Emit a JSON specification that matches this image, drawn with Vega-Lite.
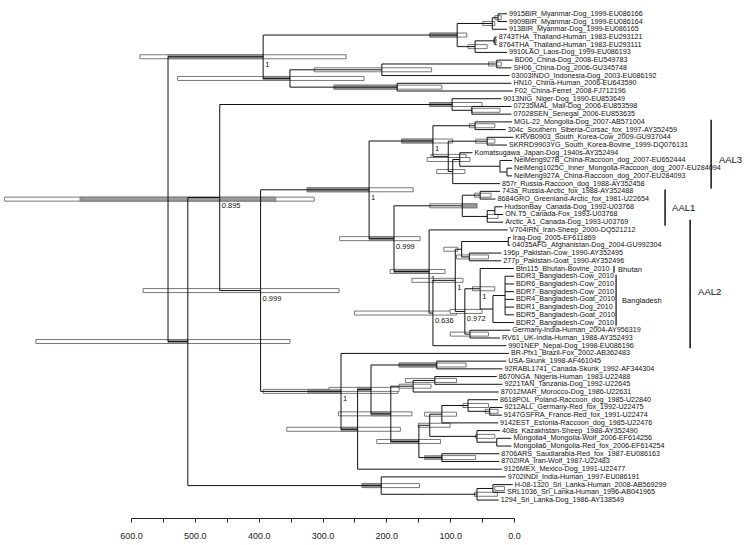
{
 "$schema": "https://vega.github.io/schema/vega-lite/v6.json",
 "width": 383, "height": 518,
 "autosize": "none",
 "padding": {"left": 131, "top": 0, "right": 236, "bottom": 27},
 "background": "white",
 "config": {"view": {"stroke": null}, "font": "Liberation Sans",
   "axis": {"grid": false, "domainColor": "#222", "tickColor": "#222", "tickSize": 4, "labelFontSize": 9,
            "labelColor": "#222", "labelPadding": 9, "labelFont": "Liberation Sans", "labelFlush": false,
            "labelOverlap": false, "domainWidth": 1, "tickWidth": 1}},
 "datasets": {
  "nodes": [
   {"id":"R","v":542,"y":25.01,"hi":798,"lo":313,"ghi":680,"glo":373},
   {"id":"T","parent":"R","v":393,"y":6.5625,"pp":"1","hi":586,"lo":263,"ghi":542,"glo":393},
   {"id":"T1","parent":"T","v":89,"y":3.75,"hi":132,"lo":74,"ghi":132,"glo":89},
   {"id":"A123","parent":"T1","v":34,"y":2.25,"hi":49,"lo":30},
   {"id":"A12","parent":"A123","v":25,"y":1.5,"hi":30,"lo":20},
   {"id":"A456","parent":"T1","v":61,"y":5.25,"hi":72,"lo":42},
   {"id":"A45","parent":"A456","v":30,"y":4.5,"hi":32,"lo":28},
   {"id":"T2","parent":"T","v":351,"y":9.375,"hi":527,"lo":235,"ghi":393,"glo":351},
   {"id":"T2a","parent":"T2","v":207,"y":8.25,"hi":313,"lo":129},
   {"id":"N78","parent":"T2a","v":27,"y":7.5,"hi":40,"lo":20},
   {"id":"N1011","parent":"T2","v":183,"y":10.5,"hi":282,"lo":113,"ghi":282,"glo":183},
   {"id":"B","parent":"R","v":511,"y":43.46,"hi":749,"lo":351,"ghi":542,"glo":511},
   {"id":"N895","parent":"B","v":461,"y":24.8,"pp":"0.895"},
   {"id":"Af2","parent":"N895","v":97,"y":12.75,"hi":132,"lo":50,"ghi":132,"glo":97},
   {"id":"Af2b","parent":"Af2","v":66,"y":13.5,"hi":66,"lo":22},
   {"id":"N999a","parent":"N895","v":397,"y":36.86,"pp":"0.999","hi":581,"lo":274},
   {"id":"C","parent":"N999a","v":227,"y":23.8,"pp":"1","hi":324,"lo":158,"ghi":324,"glo":227},
   {"id":"AAL3","parent":"C","v":127,"y":17.48,"pp":"1","hi":176,"lo":96,"ghi":176,"glo":127},
   {"id":"N1516","parent":"AAL3","v":61,"y":15.5,"hi":70,"lo":30},
   {"id":"N1723","parent":"AAL3","v":103,"y":19.47,"hi":130,"lo":75},
   {"id":"N1718","parent":"N1723","v":42,"y":17.5,"hi":60,"lo":30},
   {"id":"Q","parent":"N1723","v":96,"y":21.4375,"hi":121,"lo":77},
   {"id":"N1922","parent":"Q","v":85,"y":19.875,"hi":136,"lo":69},
   {"id":"N2022","parent":"N1922","v":22,"y":20.75},
   {"id":"N2122","parent":"N2022","v":11,"y":21.5},
   {"id":"D","parent":"C","v":188,"y":30.13,"pp":"0.999","hi":273,"lo":147,"ghi":227,"glo":188},
   {"id":"AAL1","parent":"D","v":81,"y":25.875,"hi":132,"lo":58,"ghi":81,"glo":58},
   {"id":"N2425","parent":"AAL1","v":53,"y":24.5,"hi":62,"lo":36},
   {"id":"N2628","parent":"AAL1","v":42,"y":27.25,"hi":42,"lo":25},
   {"id":"N2627","parent":"N2628","v":30,"y":26.5},
   {"id":"AAL2","parent":"D","v":133,"y":34.38,"pp":"1","hi":194,"lo":108,"ghi":188,"glo":133},
   {"id":"N636","parent":"AAL2","v":127,"y":39.77,"pp":"0.636","hi":250,"lo":90},
   {"id":"Na","parent":"N636","v":92,"y":35.53,"pp":"1","hi":160,"lo":80},
   {"id":"N3033","parent":"Na","v":82,"y":31.5,"hi":110,"lo":88},
   {"id":"N3031","parent":"N3033","v":9,"y":30.5},
   {"id":"N3233","parent":"N3033","v":70,"y":32.5,"hi":90,"lo":40},
   {"id":"N972","parent":"Na","v":77,"y":39.56,"pp":"0.972","hi":100,"lo":50},
   {"id":"NBB","parent":"N972","v":53,"y":36.625,"pp":"1","hi":65,"lo":30},
   {"id":"NBg","parent":"NBB","v":33,"y":39.25},
   {"id":"NBg2","parent":"NBg","v":14,"y":37.5},
   {"id":"N4243","parent":"N972","v":69,"y":42.5,"hi":100,"lo":40},
   {"id":"E","parent":"N999a","v":271,"y":49.92,"pp":"1","hi":393,"lo":182,"ghi":323,"glo":271},
   {"id":"F","parent":"E","v":245,"y":54.83,"hi":356,"lo":178,"ghi":271,"glo":245},
   {"id":"G","parent":"F","v":224,"y":49.66,"hi":290,"lo":180,"ghi":245,"glo":224},
   {"id":"N4647","parent":"G","v":121,"y":46.5,"hi":180,"lo":75,"ghi":180,"glo":121},
   {"id":"H","parent":"G","v":193,"y":52.83,"hi":275,"lo":160,"ghi":224,"glo":193},
   {"id":"Af1","parent":"H","v":158,"y":49.25,"hi":180,"lo":130},
   {"id":"N4849","parent":"Af1","v":124,"y":48.5,"hi":170,"lo":90},
   {"id":"Eur","parent":"H","v":149,"y":56.41,"hi":215,"lo":115,"ghi":193,"glo":149},
   {"id":"N5157","parent":"Eur","v":132,"y":54.31,"hi":150,"lo":100},
   {"id":"N5154","parent":"N5157","v":113,"y":52.875,"hi":140,"lo":90},
   {"id":"N5153","parent":"N5154","v":72,"y":51.75,"hi":80,"lo":40},
   {"id":"N5253","parent":"N5153","v":38,"y":52.5,"hi":45,"lo":25},
   {"id":"N5557","parent":"N5157","v":58,"y":55.75,"hi":60,"lo":30},
   {"id":"N5657","parent":"N5557","v":27,"y":56.5},
   {"id":"N5859","parent":"Eur","v":113,"y":58.5,"hi":113,"lo":60,"ghi":140,"glo":113},
   {"id":"I","parent":"B","v":208,"y":62.125,"hi":238,"lo":148,"ghi":238,"glo":208},
   {"id":"J","parent":"I","v":58,"y":63.25,"hi":62,"lo":26},
   {"id":"K","parent":"J","v":33,"y":62.5,"hi":30,"lo":15},
   {"id":"t1","parent":"A12","v":11,"y":1,"label":"9915BIR_Myanmar-Dog_1999-EU086166"},
   {"id":"t2","parent":"A12","v":11,"y":2,"label":"9909BIR_Myanmar-Dog_1999-EU086164"},
   {"id":"t3","parent":"A123","v":11,"y":3,"label":"913BIR_Myanmar-Dog_1999-EU086165"},
   {"id":"t4","parent":"A45","v":27,"y":4,"label":"8743THA_Thailand-Human_1983-EU293121"},
   {"id":"t5","parent":"A45","v":27,"y":5,"label":"8764THA_Thailand-Human_1983-EU293111"},
   {"id":"t6","parent":"A456","v":11,"y":6,"label":"9910LAO_Laos-Dog_1999-EU086193"},
   {"id":"t7","parent":"N78","v":2,"y":7,"label":"BD06_China-Dog_2008-EU549783"},
   {"id":"t8","parent":"N78","v":4,"y":8,"label":"SH06_China-Dog_2006-GU345748"},
   {"id":"t9","parent":"T2a","v":7,"y":9,"label":"03003INDO_Indonesia-Dog_2003-EU086192"},
   {"id":"t10","parent":"N1011","v":4,"y":10,"label":"HN10_China-Human_2006-EU643590"},
   {"id":"t11","parent":"N1011","v":2,"y":11,"label":"F02_China-Ferret_2008-FJ712196"},
   {"id":"t12","parent":"Af2","v":20,"y":12,"label":"9013NIG_Niger-Dog_1990-EU853649"},
   {"id":"t13","parent":"Af2b","v":4,"y":13,"label":"07235MAL_Mali-Dog_2006-EU853598"},
   {"id":"t14","parent":"Af2b","v":4,"y":14,"label":"07028SEN_Senegal_2006-EU853635"},
   {"id":"t15","parent":"N1516","v":3,"y":15,"label":"MGL-22_Mongolia-Dog_2007-AB571004"},
   {"id":"t16","parent":"N1516","v":13,"y":16,"label":"304c_Southern_Siberia-Corsac_fox_1997-AY352459"},
   {"id":"t17","parent":"N1718","v":1,"y":17,"label":"KRVB0903_South_Korea-Cow_2009-GU937044"},
   {"id":"t18","parent":"N1718","v":11,"y":18,"label":"SKRRD9903YG_South_Korea-Bovine_1999-DQ076131"},
   {"id":"t19","parent":"N1922","v":65,"y":19,"label":"Komatsugawa_Japan-Dog_1940s-AY352494"},
   {"id":"t20","parent":"N2022","v":3,"y":20,"label":"NeiMeng927B_China-Raccoon_dog_2007-EU652444"},
   {"id":"t21","parent":"N2122","v":3,"y":21,"label":"NeiMeng1025C_Inner_Mongolia-Raccoon_dog_2007-EU284094"},
   {"id":"t22","parent":"N2122","v":3,"y":22,"label":"NeiMeng927A_China-Raccoon_dog_2007-EU284093"},
   {"id":"t23","parent":"Q","v":22,"y":23,"label":"857r_Russia-Raccoon_dog_1988-AY352458"},
   {"id":"t24","parent":"N2425","v":22,"y":24,"label":"743a_Russia-Arctic_fox_1988-AY352488"},
   {"id":"t25","parent":"N2425","v":29,"y":25,"label":"8684GRO_Greenland-Arctic_fox_1981-U22654"},
   {"id":"t26","parent":"N2627","v":18,"y":26,"label":"HudsonBay_Canada-Dog_1992-U03768"},
   {"id":"t27","parent":"N2627","v":17,"y":27,"label":"ON.T5_Canada-Fox_1993-U03768"},
   {"id":"t28","parent":"N2628","v":17,"y":28,"label":"Arctic_A1_Canada-Dog_1993-U03769"},
   {"id":"t29","parent":"AAL2","v":10,"y":29,"label":"V704IRN_Iran-Sheep_2000-DQ521212"},
   {"id":"t30","parent":"N3031","v":5,"y":30,"label":"Iraq-Dog_2005-EF611869"},
   {"id":"t31","parent":"N3031","v":6,"y":31,"label":"04035AFG_Afghanistan-Dog_2004-GU992304"},
   {"id":"t32","parent":"N3233","v":20,"y":32,"label":"196p_Pakistan-Cow_1990-AY352495"},
   {"id":"t33","parent":"N3233","v":20,"y":33,"label":"277p_Pakistan-Goat_1990-AY352496"},
   {"id":"t34","parent":"NBB","v":0,"y":34,"label":"Btn115_Bhutan-Bovine_2010"},
   {"id":"t35","parent":"NBg2","v":0,"y":35,"label":"BDR3_Bangladesh-Cow_2010"},
   {"id":"t36","parent":"NBg2","v":0,"y":36,"label":"BDR6_Bangladesh-Cow_2010"},
   {"id":"t37","parent":"NBg2","v":0,"y":37,"label":"BDR7_Bangladesh-Cow_2010"},
   {"id":"t38","parent":"NBg2","v":0,"y":38,"label":"BDR4_Bangladesh-Goat_2010"},
   {"id":"t39","parent":"NBg2","v":0,"y":39,"label":"BDR1_Bangladesh-Dog_2010"},
   {"id":"t40","parent":"NBg2","v":0,"y":40,"label":"BDR5_Bangladesh-Goat_2010"},
   {"id":"t41","parent":"NBg","v":0,"y":41,"label":"BDR2_Bangladesh-Cow_2010"},
   {"id":"t42","parent":"N4243","v":6,"y":42,"label":"Germany-India-Human_2004-AY956319"},
   {"id":"t43","parent":"N4243","v":22,"y":43,"label":"RV61_UK-India-Human_1988-AY352493"},
   {"id":"t44","parent":"N636","v":12,"y":44,"label":"9901NEP_Nepal-Dog_1998-EU086196"},
   {"id":"t45","parent":"E","v":8,"y":45,"label":"BR-Pfx1_Brazil-Fox_2002-AB362483"},
   {"id":"t46","parent":"N4647","v":12,"y":46,"label":"USA-Skunk_1998-AF461045"},
   {"id":"t47","parent":"N4647","v":18,"y":47,"label":"92RABL1741_Canada-Skunk_1992-AF344304"},
   {"id":"t48","parent":"N4849","v":27,"y":48,"label":"8670NGA_Nigeria-Human_1983-U22488"},
   {"id":"t49","parent":"N4849","v":18,"y":49,"label":"9221TAN_Tanzania-Dog_1992-U22645"},
   {"id":"t50","parent":"Af1","v":24,"y":50,"label":"87012MAR_Morocco-Dog_1986-U22631"},
   {"id":"t51","parent":"N5153","v":25,"y":51,"label":"8618POL_Poland-Raccoon_dog_1985-U22840"},
   {"id":"t52","parent":"N5253","v":18,"y":52,"label":"9212ALL_Germany-Red_fox_1992-U22475"},
   {"id":"t53","parent":"N5253","v":19,"y":53,"label":"9147GSFRA_France-Red_fox_1991-U22474"},
   {"id":"t54","parent":"N5154","v":25,"y":54,"label":"9142EST_Estonia-Raccoon_dog_1985-U22476"},
   {"id":"t55","parent":"N5557","v":22,"y":55,"label":"408s_Kazakhstan-Sheep_1988-AY352490"},
   {"id":"t56","parent":"N5657","v":4,"y":56,"label":"Mongolia4_Mongolia-Wolf_2006-EF614256"},
   {"id":"t57","parent":"N5657","v":4,"y":57,"label":"Mongolia6_Mongolia-Red_fox_2006-EF614254"},
   {"id":"t58","parent":"N5859","v":23,"y":58,"label":"8706ARS_Saudiarabia-Red_fox_1987-EU086163"},
   {"id":"t59","parent":"N5859","v":23,"y":59,"label":"8702IRA_Iran-Wolf_1987-U22483"},
   {"id":"t60","parent":"F","v":19,"y":60,"label":"9126MEX_Mexico-Dog_1991-U22477"},
   {"id":"t61","parent":"I","v":13,"y":61,"label":"9702INDI_India-Human_1997-EU086191"},
   {"id":"t62","parent":"K","v":2,"y":62,"label":"H-08-1320_Sri_Lanka-Human_2008-AB569299"},
   {"id":"t63","parent":"K","v":14,"y":63,"label":"SRL1036_Sri_Lanka-Human_1996-AB041965"},
   {"id":"t64","parent":"J","v":24,"y":64,"label":"1294_Sri_Lanka-Dog_1986-AY138549"}
  ],
  "clades": [
   {"name":"AAL3","v":-308.8,"y1":14.72,"y2":23.62,"lv":-321,"ly":19.93,"fs":9.5,"w":1.5},
   {"name":"AAL1","v":-236.7,"y1":23.75,"y2":28.45,"lv":-247.6,"ly":26.16,"fs":9.5,"w":1.5},
   {"name":"AAL2","v":-275.9,"y1":27.68,"y2":44.33,"lv":-288.4,"ly":37.09,"fs":9.5,"w":1.5},
   {"name":"Bhutan","v":-156.7,"y1":33.66,"y2":34.55,"lv":-163,"ly":34.16,"fs":7.5,"w":1.2},
   {"name":"Bangladesh","v":-159.9,"y1":34.8,"y2":41.4,"lv":-169.3,"ly":38.23,"fs":7.5,"w":1.2}
  ]
 },
 "layer": [
  {
   "data": {"name": "nodes"},
   "transform": [{"filter": "isValid(datum.hi)"}],
   "mark": {"type": "bar", "size": 4, "fill": "white", "stroke": "#555", "strokeWidth": 0.8},
   "encoding": {
    "x": {"field": "hi", "type": "quantitative",
          "scale": {"domain": [0, 600], "reverse": true, "nice": false, "zero": false},
          "axis": {"values": [0,50,100,150,200,250,300,350,400,450,500,550,600], "labelExpr": "datum.value % 100 === 0 ? format(datum.value, '.1f') : ''", "title": null}},
    "x2": {"field": "lo"},
    "y": {"field": "y", "type": "quantitative",
          "scale": {"domain": [-0.1436, 65.677], "reverse": true, "nice": false, "zero": false},
          "axis": null}
   }
  },
  {
   "data": {"name": "nodes"},
   "transform": [{"filter": "isValid(datum.ghi)"}],
   "mark": {"type": "bar", "size": 4, "fill": "#9a9a9a", "stroke": "#666", "strokeWidth": 0.6},
   "encoding": {
    "x": {"field": "ghi", "type": "quantitative", "axis": {"values": [0,50,100,150,200,250,300,350,400,450,500,550,600], "labelExpr": "datum.value % 100 === 0 ? format(datum.value, '.1f') : ''", "title": null}},
    "x2": {"field": "glo"},
    "y": {"field": "y", "type": "quantitative", "axis": null}
   }
  },
  {
   "data": {"name": "nodes"},
   "transform": [
    {"filter": "isValid(datum.parent)"},
    {"lookup": "parent", "from": {"data": {"name": "nodes"}, "key": "id", "fields": ["v"]}, "as": ["pv"]}
   ],
   "mark": {"type": "rule", "color": "#111", "strokeWidth": 1},
   "encoding": {
    "x": {"field": "pv", "type": "quantitative", "axis": {"values": [0,50,100,150,200,250,300,350,400,450,500,550,600], "labelExpr": "datum.value % 100 === 0 ? format(datum.value, '.1f') : ''", "title": null}},
    "x2": {"field": "v"},
    "y": {"field": "y", "type": "quantitative", "axis": null}
   }
  },
  {
   "data": {"name": "nodes"},
   "transform": [
    {"filter": "isValid(datum.parent)"},
    {"aggregate": [{"op": "min", "field": "y", "as": "y1"}, {"op": "max", "field": "y", "as": "y2"}], "groupby": ["parent"]},
    {"lookup": "parent", "from": {"data": {"name": "nodes"}, "key": "id", "fields": ["v"]}, "as": ["pv"]}
   ],
   "mark": {"type": "rule", "color": "#111", "strokeWidth": 1},
   "encoding": {
    "x": {"field": "pv", "type": "quantitative", "axis": {"values": [0,50,100,150,200,250,300,350,400,450,500,550,600], "labelExpr": "datum.value % 100 === 0 ? format(datum.value, '.1f') : ''", "title": null}},
    "y": {"field": "y1", "type": "quantitative", "axis": null},
    "y2": {"field": "y2"}
   }
  },
  {
   "data": {"name": "nodes"},
   "transform": [{"filter": "isValid(datum.label)"}],
   "mark": {"type": "text", "align": "left", "baseline": "middle", "dx": 2, "fontSize": 7.2, "color": "#111", "font": "Liberation Sans"},
   "encoding": {
    "x": {"field": "v", "type": "quantitative", "axis": {"values": [0,50,100,150,200,250,300,350,400,450,500,550,600], "labelExpr": "datum.value % 100 === 0 ? format(datum.value, '.1f') : ''", "title": null}},
    "y": {"field": "y", "type": "quantitative", "axis": null},
    "text": {"field": "label"}
   }
  },
  {
   "data": {"name": "nodes"},
   "transform": [{"filter": "isValid(datum.pp)"}],
   "mark": {"type": "text", "align": "left", "baseline": "middle", "dx": 2, "dy": 8, "fontSize": 7.5, "color": "#111", "font": "Liberation Sans"},
   "encoding": {
    "x": {"field": "v", "type": "quantitative", "axis": {"values": [0,50,100,150,200,250,300,350,400,450,500,550,600], "labelExpr": "datum.value % 100 === 0 ? format(datum.value, '.1f') : ''", "title": null}},
    "y": {"field": "y", "type": "quantitative", "axis": null},
    "text": {"field": "pp"}
   }
  },
  {
   "data": {"name": "clades"},
   "mark": {"type": "rule", "color": "#111"},
   "encoding": {
    "x": {"field": "v", "type": "quantitative", "axis": {"values": [0,50,100,150,200,250,300,350,400,450,500,550,600], "labelExpr": "datum.value % 100 === 0 ? format(datum.value, '.1f') : ''", "title": null}},
    "y": {"field": "y1", "type": "quantitative", "axis": null},
    "y2": {"field": "y2"},
    "strokeWidth": {"field": "w", "type": "quantitative", "scale": null}
   }
  },
  {
   "data": {"name": "clades"},
   "mark": {"type": "text", "align": "left", "baseline": "middle", "color": "#111", "font": "Liberation Sans"},
   "encoding": {
    "x": {"field": "lv", "type": "quantitative", "axis": {"values": [0,50,100,150,200,250,300,350,400,450,500,550,600], "labelExpr": "datum.value % 100 === 0 ? format(datum.value, '.1f') : ''", "title": null}},
    "y": {"field": "ly", "type": "quantitative", "axis": null},
    "text": {"field": "name"},
    "size": {"field": "fs", "type": "quantitative", "scale": null}
   }
  }
 ]
}
